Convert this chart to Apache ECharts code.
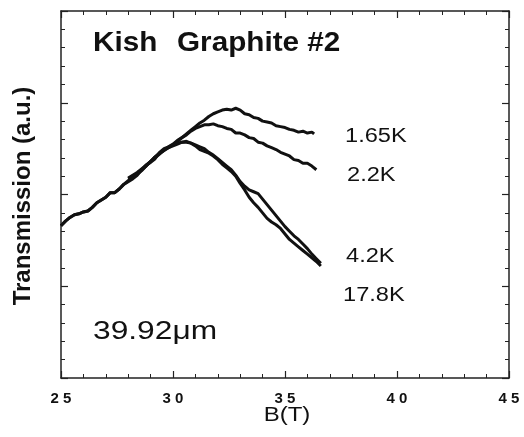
<!DOCTYPE html>
<html lang="en">
<head>
    <meta charset="UTF-8">
    <title>Kish Graphite #2</title>
    <script type="text/javascript" src="https://cdn.jsdelivr.net/npm/echarts@6/dist/echarts.min.js"></script>
    <style>
        body { margin: 0; background: #fff; }
    </style>
</head>
<body>
<div id="main" style="width: 524px;height: 437px"></div>
<script type="text/javascript">
    // x tick labels
    var xTicks = [25, 30, 35, 40, 45];

    // 1.65K
    var b165 = [28.0, 28.2, 28.4, 28.6, 28.8, 29.0, 29.2, 29.4, 29.6, 29.8, 30.0, 30.2, 30.4, 30.6, 30.8, 31.0, 31.2, 31.4, 31.6, 31.8, 32.0, 32.2, 32.4, 32.6, 32.8, 33.0, 33.2, 33.4, 33.6, 33.8, 34.0, 34.2, 34.4, 34.6, 34.8, 35.0, 35.2, 35.4, 35.6, 35.8, 36.0, 36.2, 36.3];
    var t165 = [2.17, 2.20, 2.23, 2.27, 2.31, 2.36, 2.40, 2.44, 2.48, 2.51, 2.54, 2.58, 2.62, 2.66, 2.70, 2.74, 2.78, 2.81, 2.85, 2.88, 2.90, 2.92, 2.93, 2.92, 2.94, 2.92, 2.88, 2.87, 2.84, 2.83, 2.80, 2.79, 2.78, 2.75, 2.74, 2.73, 2.71, 2.70, 2.68, 2.69, 2.67, 2.68, 2.66];

    // 2.2K
    var b22 = [28.0, 28.2, 28.4, 28.6, 28.8, 29.0, 29.2, 29.4, 29.6, 29.8, 30.0, 30.2, 30.4, 30.6, 30.8, 31.0, 31.2, 31.4, 31.6, 31.8, 32.0, 32.2, 32.4, 32.6, 32.8, 33.0, 33.2, 33.4, 33.6, 33.8, 34.0, 34.2, 34.4, 34.6, 34.8, 35.0, 35.2, 35.4, 35.6, 35.8, 36.0, 36.2, 36.4];
    var t22 = [2.18, 2.21, 2.24, 2.28, 2.32, 2.36, 2.41, 2.45, 2.48, 2.52, 2.55, 2.59, 2.62, 2.65, 2.69, 2.72, 2.74, 2.76, 2.76, 2.77, 2.75, 2.74, 2.72, 2.71, 2.67, 2.67, 2.65, 2.62, 2.61, 2.57, 2.56, 2.53, 2.51, 2.49, 2.46, 2.44, 2.42, 2.38, 2.37, 2.34, 2.34, 2.31, 2.27];

    // 4.2K
    var b42 = [25.0, 25.2, 25.4, 25.6, 25.8, 26.0, 26.2, 26.4, 26.6, 26.8, 27.0, 27.2, 27.4, 27.6, 27.8, 28.0, 28.2, 28.4, 28.6, 28.8, 29.0, 29.2, 29.4, 29.6, 29.8, 30.0, 30.2, 30.4, 30.6, 30.8, 31.0, 31.2, 31.4, 31.6, 31.8, 32.0, 32.2, 32.4, 32.6, 32.8, 33.0, 33.2, 33.4, 33.6, 33.8, 34.0, 34.2, 34.4, 34.6, 34.8, 35.0, 35.2, 35.4, 35.6, 35.8, 36.0, 36.2, 36.4, 36.6];
    var t42 = [1.66, 1.71, 1.75, 1.78, 1.79, 1.81, 1.82, 1.86, 1.91, 1.94, 1.97, 2.02, 2.02, 2.06, 2.11, 2.15, 2.19, 2.22, 2.26, 2.31, 2.36, 2.41, 2.45, 2.49, 2.51, 2.53, 2.55, 2.57, 2.57, 2.56, 2.54, 2.52, 2.50, 2.46, 2.43, 2.39, 2.35, 2.31, 2.27, 2.21, 2.14, 2.09, 2.05, 2.03, 2.01, 1.95, 1.89, 1.83, 1.77, 1.71, 1.65, 1.60, 1.55, 1.51, 1.46, 1.41, 1.35, 1.30, 1.25];

    // 17.8K
    var b178 = [25.0, 25.2, 25.4, 25.6, 25.8, 26.0, 26.2, 26.4, 26.6, 26.8, 27.0, 27.2, 27.4, 27.6, 27.8, 28.0, 28.2, 28.4, 28.6, 28.8, 29.0, 29.2, 29.4, 29.6, 29.8, 30.0, 30.2, 30.4, 30.6, 30.8, 31.0, 31.2, 31.4, 31.6, 31.8, 32.0, 32.2, 32.4, 32.6, 32.8, 33.0, 33.2, 33.4, 33.6, 33.8, 34.0, 34.2, 34.4, 34.6, 34.8, 35.0, 35.2, 35.4, 35.6, 35.8, 36.0, 36.2, 36.4, 36.6];
    var t178 = [1.66, 1.71, 1.75, 1.78, 1.79, 1.81, 1.82, 1.86, 1.91, 1.94, 1.97, 2.02, 2.02, 2.06, 2.11, 2.14, 2.17, 2.21, 2.27, 2.32, 2.35, 2.39, 2.46, 2.50, 2.52, 2.54, 2.56, 2.57, 2.58, 2.56, 2.53, 2.49, 2.47, 2.45, 2.42, 2.38, 2.33, 2.29, 2.25, 2.20, 2.12, 2.05, 1.97, 1.91, 1.86, 1.80, 1.74, 1.70, 1.67, 1.63, 1.57, 1.51, 1.47, 1.43, 1.39, 1.35, 1.31, 1.27, 1.22];

    var names = ['1.65K', '2.2K', '4.2K', '17.8K'];
    var fields = [b165, b22, b42, b178];
    var values = [t165, t22, t42, t178];

    var chart = echarts.init(document.getElementById('main'));
    var font = '"Liberation Sans", Arial, sans-serif';

    var series = [];
    for (var i = 0; i < names.length; i++) {
        var d = [];
        for (var j = 0; j < fields[i].length; j++) {
            d.push([fields[i][j], values[i][j]]);
        }
        series.push({
            name: names[i],
            type: 'line',
            data: d,
            showSymbol: false,
            lineStyle: { color: '#111', width: 3 }
        });
    }

    var tickStyle = { show: true, inside: true, length: 7, lineStyle: { color: '#222', width: 1.2 } };
    var minorStyle = { show: true, splitNumber: 5, length: 4, lineStyle: { color: '#222', width: 1 } };
    var lineStyle = { show: true, onZero: false, lineStyle: { color: '#222', width: 1.5 } };

    function label(text, x, y, size, weight, sx, align, rot) {
        return {
            type: 'text', x: x, y: y, scaleX: sx, rotation: rot || 0,
            style: {
                text: text, font: weight + ' ' + size + 'px ' + font, fill: '#111',
                align: align || 'left', verticalAlign: 'middle'
            }
        };
    }

    var option = {
        animation: false,
        backgroundColor: '#fff',
        grid: { left: 61, right: 15, top: 11, bottom: 59 },
        xAxis: [
            {
                type: 'value', min: 25, max: 45, interval: 5, position: 'bottom',
                axisLine: lineStyle, axisTick: tickStyle, minorTick: minorStyle,
                splitLine: { show: false },
                axisLabel: {
                    margin: 13, fontSize: 15, fontWeight: 'bold', color: '#111', fontFamily: font,
                    formatter: function (v) { return xTicks.indexOf(v) >= 0 ? String(v).split('').join(' ') : ''; }
                }
            },
            {
                type: 'value', min: 25, max: 45, interval: 5, position: 'top',
                axisLine: lineStyle, axisTick: tickStyle, minorTick: minorStyle,
                splitLine: { show: false }, axisLabel: { show: false }
            }
        ],
        yAxis: [
            {
                type: 'value', min: 0, max: 4, interval: 1, position: 'left',
                axisLine: lineStyle, axisTick: tickStyle, minorTick: minorStyle,
                splitLine: { show: false }, axisLabel: { show: false }
            },
            {
                type: 'value', min: 0, max: 4, interval: 1, position: 'right',
                axisLine: lineStyle, axisTick: tickStyle, minorTick: minorStyle,
                splitLine: { show: false }, axisLabel: { show: false }
            }
        ],
        graphic: [
            label('Kish', 93, 43, 28, 'bold', 1.06),
            label('Graphite #2', 177, 43, 28, 'bold', 1.06),
            label('39.92\u03bcm', 93, 332, 26, 'normal', 1.22),
            label('1.65K', 345, 136.5, 20, 'normal', 1.18),
            label('2.2K', 347, 175.5, 20, 'normal', 1.18),
            label('4.2K', 346, 256, 20, 'normal', 1.18),
            label('17.8K', 343, 295.5, 20, 'normal', 1.18),
            label('B(T)', 287, 415, 20, 'normal', 1.2, 'center'),
            label('Transmission (a.u.)', 23, 196, 24, 'bold', 1, 'center', Math.PI / 2)
        ],
        series: series
    };

    option && chart.setOption(option);
</script>
</body>
</html>
